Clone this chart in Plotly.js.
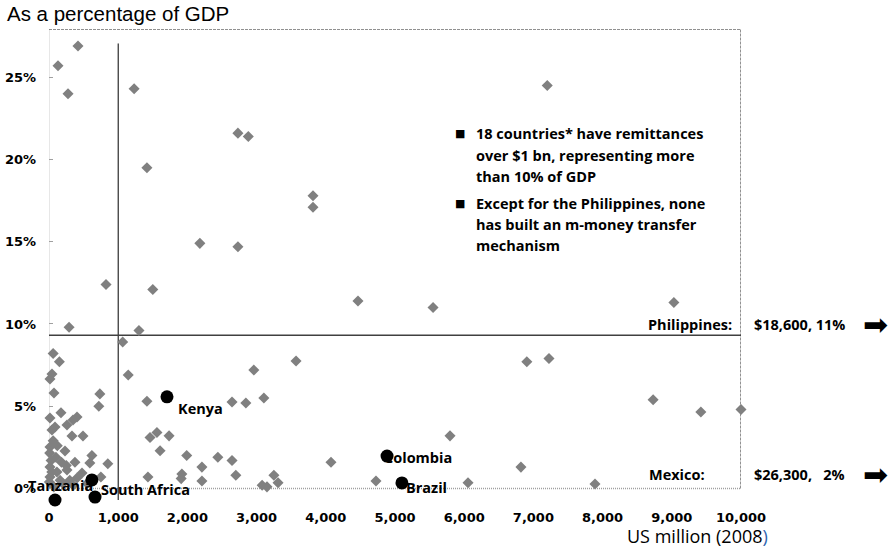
<!DOCTYPE html>
<html>
<head>
<meta charset="utf-8">
<script src="https://cdn.plot.ly/plotly-3.0.1.min.js"></script>
<style>html,body{margin:0;padding:0;background:#fff;}#chart{width:893px;height:547px;}</style>
</head>
<body>
<div id="chart"></div>
<script>
// Remittances, US$ million (2008), and as a percentage of GDP (gray diamonds)
const remitX = [
  419, 130, 275, 1230, 2730, 2880, 1415, 7200, 3815, 3815,
  2180, 2730, 824, 1500, 4465, 5550, 9030, 290, 1300, 1065,
  60, 150, 43, 14, 1145, 2960, 3570, 6905, 7225, 8730,
  9420, 10000, 1415, 2645, 2845, 3105, 72, 735, 720, 5795,
  4075, 4725, 6055, 6820, 7890, 1460, 1560, 1735, 1605, 1990,
  2440, 2645, 2210, 2700, 1920, 1910, 1430, 2210, 3080, 3150,
  3250, 3310, 850, 620, 590, 375, 14, 173, 347, 405,
  43, 87, 260, 491, 332, 14, 231, 10, 14, 115,
  260, 477, 14, 405, 5, 100, 60, 200, 300, 550,
  750, 30, 180, 350, 120, 40, 250, 70, 160
];
const remitPct = [
  26.9, 25.7, 24.0, 24.3, 21.6, 21.4, 19.5, 24.5, 17.8, 17.1,
  14.9, 14.7, 12.4, 12.1, 11.4, 11.0, 11.3, 9.8, 9.6, 8.9,
  8.2, 7.7, 6.96, 6.66, 6.9, 7.2, 7.75, 7.7, 7.9, 5.4,
  4.65, 4.8, 5.3, 5.26, 5.2, 5.5, 5.8, 5.75, 5.0, 3.2,
  1.6, 0.45, 0.35, 1.3, 0.27, 3.1, 3.4, 3.2, 2.3, 2.0,
  1.9, 1.7, 1.3, 0.8, 0.88, 0.6, 0.7, 0.45, 0.2, 0.1,
  0.8, 0.35, 1.5, 2.0, 1.55, 1.6, 4.29, 4.6, 4.16, 4.35,
  3.55, 3.74, 3.86, 3.19, 3.19, 2.52, 2.28, 2.15, 1.31, 1.0,
  1.12, 0.94, 0.7, 0.64, 0.4, 1.9, 2.9, 0.3, 0.5, 0.3,
  0.7, 1.7, 1.6, 0.2, 2.6, 1.0, 1.4, 0.1, 0.5
];

// Highlighted countries (black circles)
const hiNames = ["Kenya", "Colombia", "Brazil", "Tanzania", "South Africa", ""];
const hiX     = [1705, 4885, 5100, 87, 665, 620];
const hiPct   = [5.57, 1.97, 0.34, -0.7, -0.52, 0.52];

// Axis ticks
const xTicks = [0, 1000, 2000, 3000, 4000, 5000, 6000, 7000, 8000, 9000, 10000];
const yTicks = [0, 5, 10, 15, 20, 25];
const yTickText = ["0%", "5%", "10%", "15%", "20%", "25%"];

// Reference lines
const thresholdX = 1000;      // US$1 bn
const thresholdPct = 9.31;    // ~10% of GDP line

// Off-chart notes
const offChart = [
  {name: "Philippines:", value: "$18,600, 11%"},
  {name: "Mexico:", value: "$26,300,\u00a0\u00a0 2%"}
];
const bullets = [
  ["18 countries* have remittances", "over $1 bn, representing more", "than 10% of GDP"],
  ["Except for the Philippines, none", "has built an m-money transfer", "mechanism"]
];

const Y0 = -1.064, Y1 = 27.93, X0 = 0, X1 = 10000;
const lblFont = {family: "Open Sans", size: 14.5, color: "#000", weight: "bold"};

const traces = [
  {
    type: "scatter", mode: "markers", x: remitX, y: remitPct,
    marker: {symbol: "diamond", size: 8.5, color: "#808080"},
    cliponaxis: false, hoverinfo: "skip"
  },
  {
    type: "scatter", mode: "markers", x: hiX, y: hiPct,
    marker: {symbol: "circle", size: 13, color: "#000"},
    cliponaxis: false, hoverinfo: "skip"
  }
];

const shapes = [
  {type: "line", layer: "below", xref: "x", yref: "y", x0: 0, x1: 0, y0: 0, y1: Y1, line: {color: "#a0a0a0", width: 1, dash: "1px,1px"}},
  {type: "line", layer: "below", xref: "x", yref: "y", x0: X0, x1: X1, y0: 0, y1: 0, line: {color: "#a0a0a0", width: 1.5, dash: "1px,1px"}},
  {type: "line", layer: "below", xref: "x", yref: "y", x0: X0, x1: X1, y0: Y1, y1: Y1, line: {color: "#222", width: 1, dash: "3px,1px"}},
  {type: "line", layer: "below", xref: "x", yref: "y", x0: X1, x1: X1, y0: 0, y1: Y1, line: {color: "#222", width: 1, dash: "3px,1px"}},
  {type: "line", layer: "below", xref: "x", yref: "y", x0: thresholdX, x1: thresholdX, y0: -0.7, y1: 27.05, line: {color: "#000", width: 1}},
  {type: "line", layer: "below", xref: "x", yref: "y", x0: X0, x1: X1, y0: thresholdPct, y1: thresholdPct, line: {color: "#404040", width: 1.5}}
];

const annotations = [];
// point labels
const lblPos = [
  {xanchor: "left", xshift: 9, yshift: -12},
  {xanchor: "left", xshift: -5, yshift: -1},
  {xanchor: "left", xshift: 2, yshift: -5},
  {xanchor: "center", xshift: 5, yshift: 15},
  {xanchor: "left", xshift: 4, yshift: 8},
  null
];
hiNames.forEach((n, i) => {
  if (!n) return;
  const p = lblPos[i];
  annotations.push({xref: "x", yref: "y", x: hiX[i], y: hiPct[i], text: n, showarrow: false,
    xanchor: p.xanchor, yanchor: "middle", xshift: p.xshift, yshift: p.yshift, font: lblFont});
});
// bullets
const px2x = px => (px - 49) / 692;
const px2y = py => (506 - py) / 477;
const bulletLineY = [[133, 155, 176], [203, 224, 245]];
bullets.forEach((lines, b) => {
  annotations.push({xref: "paper", yref: "paper", x: px2x(460), y: px2y(bulletLineY[b][0]), text: "\u25A0",
    showarrow: false, xanchor: "center", yanchor: "middle", font: {family: "DejaVu Sans", size: 11, color: "#000"}});
  lines.forEach((t, k) => {
    annotations.push({xref: "paper", yref: "paper", x: px2x(474), y: px2y(bulletLineY[b][k]), text: t,
      showarrow: false, xanchor: "left", yanchor: "middle", font: lblFont});
  });
});
// off-chart notes
const offY = [324, 474];
const offNameRight = [734, 707];
offChart.forEach((o, i) => {
  annotations.push({xref: "paper", yref: "paper", x: px2x(offNameRight[i]), y: px2y(offY[i]), text: o.name,
    showarrow: false, xanchor: "right", yanchor: "middle", font: lblFont});
  annotations.push({xref: "paper", yref: "paper", x: px2x(752), y: px2y(offY[i]), text: o.value,
    showarrow: false, xanchor: "left", yanchor: "middle", font: lblFont});
  annotations.push({xref: "paper", yref: "paper", x: px2x(875), y: px2y(offY[i]), text: "\u27A1",
    showarrow: false, xanchor: "center", yanchor: "middle", font: {family: "DejaVu Sans", size: 30, color: "#000"}});
});
// x-axis title
annotations.push({xref: "paper", yref: "paper", x: px2x(770), y: px2y(536),
  text: 'US million (2008<span style="color:#2e64b0">)</span>', showarrow: false,
  xanchor: "right", yanchor: "middle", font: {family: "Open Sans", size: 18, color: "#000"}});

const layout = {
  width: 893, height: 547,
  margin: {l: 49, r: 152, t: 29, b: 41},
  paper_bgcolor: "#fff", plot_bgcolor: "#fff",
  showlegend: false,
  title: {text: "As a percentage of GDP", x: 7 / 893, xanchor: "left", xref: "container",
    y: 1 - 14 / 547, yanchor: "middle", yref: "container",
    font: {family: "Liberation Sans", size: 20.5, color: "#000"}},
  xaxis: {range: [X0, X1], tickvals: xTicks, tickformat: ",d", showgrid: false, zeroline: false,
    showline: false, ticks: "", ticklabelstandoff: 2,
    tickfont: {family: "DejaVu Sans", size: 13, color: "#000", weight: "bold"}},
  yaxis: {range: [Y0, Y1], tickvals: yTicks, ticktext: yTickText, showgrid: false, zeroline: false,
    showline: false, ticks: "inside", ticklen: 4, tickcolor: "#a0a0a0", ticklabelstandoff: 12,
    tickfont: {family: "DejaVu Sans", size: 13, color: "#000", weight: "bold"}},
  shapes: shapes,
  annotations: annotations
};

Plotly.newPlot("chart", traces, layout, {staticPlot: true, displayModeBar: false});
</script>
</body>
</html>
